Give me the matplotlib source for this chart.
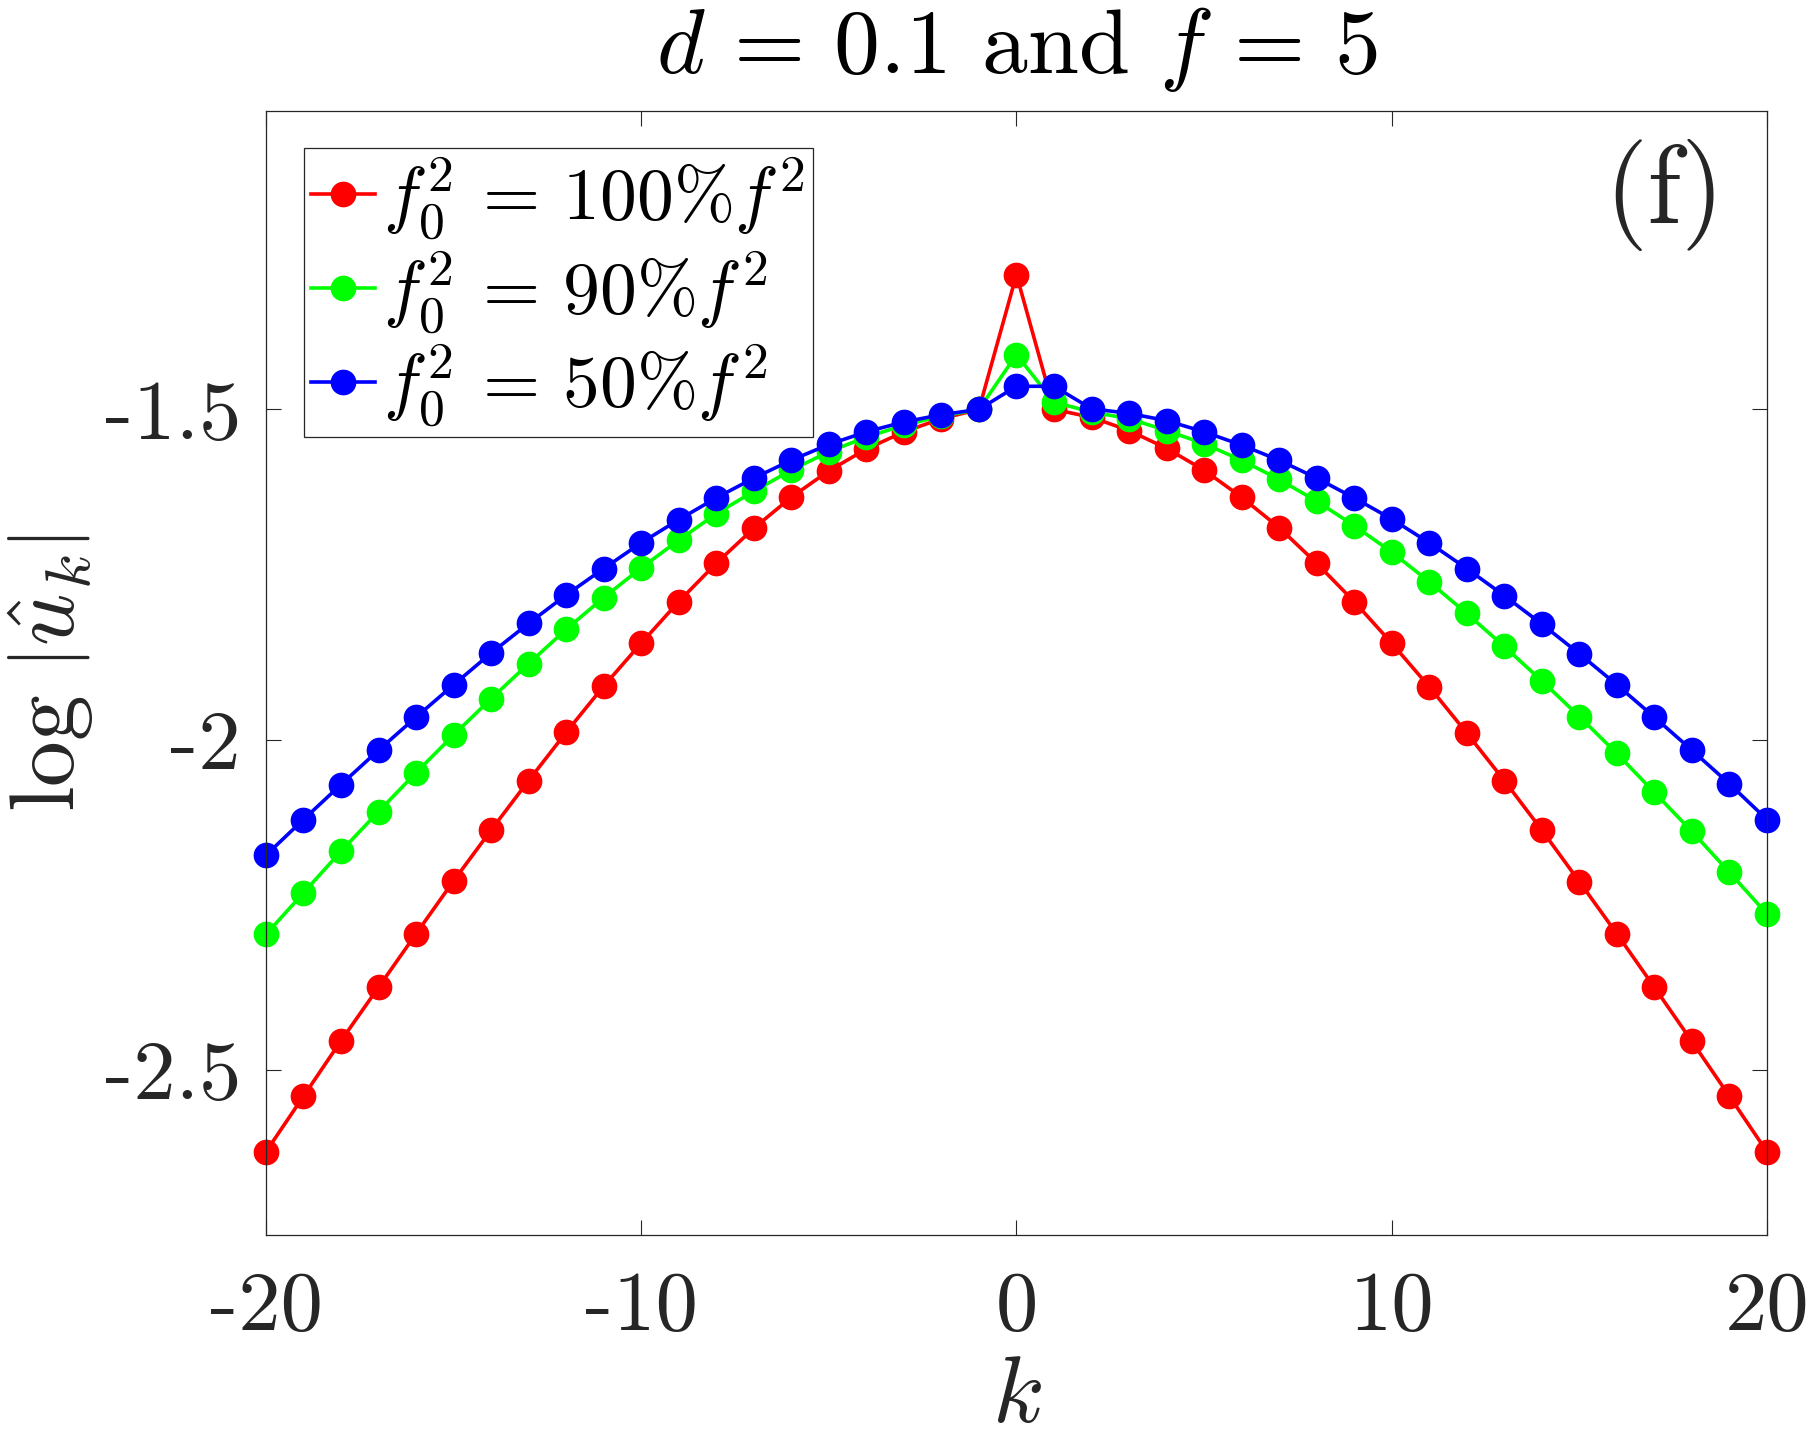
import matplotlib
matplotlib.use("Agg")
import matplotlib.pyplot as plt
import numpy as np

plt.rcParams['mathtext.fontset'] = 'cm'
plt.rcParams['font.family'] = ['cmr10', 'DejaVu Serif']
plt.rcParams['axes.unicode_minus'] = False
plt.rcParams['axes.formatter.use_mathtext'] = True

k = list(range(-20, 21))

red_100 = [-2.624, -2.540, -2.456, -2.375, -2.294, -2.214, -2.137, -2.062, -1.989, -1.919,
           -1.854, -1.791, -1.733, -1.680, -1.633, -1.593, -1.560, -1.534, -1.514, -1.500,
           -1.296,
           -1.500, -1.512, -1.532, -1.559, -1.592, -1.633, -1.679, -1.733, -1.791, -1.854,
           -1.920, -1.990, -2.062, -2.137, -2.215, -2.294, -2.375, -2.457, -2.540, -2.624]

green_90 = [-2.295, -2.232, -2.169, -2.109, -2.050, -1.993, -1.938, -1.885, -1.833, -1.785,
            -1.740, -1.698, -1.658, -1.624, -1.592, -1.564, -1.542, -1.524, -1.510, -1.500,
            -1.417,
            -1.489, -1.504, -1.514, -1.532, -1.552, -1.577, -1.606, -1.639, -1.676, -1.716,
            -1.761, -1.809, -1.859, -1.911, -1.965, -2.021, -2.080, -2.139, -2.201, -2.264]

blue_50 = [-2.175, -2.121, -2.068, -2.016, -1.966, -1.917, -1.869, -1.824, -1.781, -1.741,
           -1.702, -1.667, -1.634, -1.604, -1.577, -1.553, -1.534, -1.519, -1.508, -1.500,
           -1.465,
           -1.465, -1.499, -1.506, -1.517, -1.534, -1.554, -1.577, -1.604, -1.634, -1.666,
           -1.702, -1.741, -1.782, -1.825, -1.870, -1.917, -1.966, -2.016, -2.067, -2.121]

labels = [r'$f_0^2\,=\,100\% f^2$', r'$f_0^2\,=\,90\% f^2$', r'$f_0^2\,=\,50\% f^2$']
colors = ['#ff0000', '#00ff00', '#0000ff']

xticks = [-20, -10, 0, 10, 20]
xticklabels = ['-20', '-10', '0', '10', '20']
yticks = [-2.5, -2.0, -1.5]
yticklabels = ['-2.5', '-2', '-1.5']

axcol = '#262626'

fig = plt.figure(figsize=(18.08, 14.4), dpi=100)
ax = fig.add_axes([0.1471, 0.1424, 0.8302, 0.7806])

for y, c, lab in zip([red_100, green_90, blue_50], colors, labels):
    ax.plot(k, y, '-o', color=c, lw=2.6, ms=17.5, label=lab, clip_on=False)

ax.set_xlim(-20, 20)
ax.set_ylim(-2.75, -1.048)
ax.set_xticks(xticks)
ax.set_xticklabels(xticklabels)
ax.set_yticks(yticks)
ax.set_yticklabels(yticklabels)

for s in ax.spines.values():
    s.set_color(axcol)
    s.set_linewidth(0.9)
ax.tick_params(direction='in', length=10.8, width=0.8, color=axcol,
               top=True, right=True, labelsize=61, labelcolor=axcol)
ax.tick_params(axis='x', pad=26)
ax.tick_params(axis='y', pad=18)

ax.set_title(r'$d\,=\,0.1$ and $f\,=\,5$', fontsize=66, color='black', pad=27)
ax.set_xlabel(r'$k$', fontsize=68, color=axcol, labelpad=8)
ax.set_ylabel(r'$\log\,\left|\hat{u}_k\right|$', fontsize=66, color=axcol, labelpad=6)

ax.text(0.972, 0.925, '(f)', transform=ax.transAxes, fontsize=80,
        ha='right', va='center', color=axcol)

leg = ax.legend(loc='upper left', bbox_to_anchor=(0.0253, 0.967), fontsize=53,
                handlelength=0.86, handletextpad=0.12, borderpad=0.1,
                labelspacing=0.1, borderaxespad=0.0, fancybox=False,
                framealpha=1, edgecolor=axcol, frameon=True)
leg.get_frame().set_linewidth(0.9)

fig.savefig('out.png', dpi=100, facecolor='white')
